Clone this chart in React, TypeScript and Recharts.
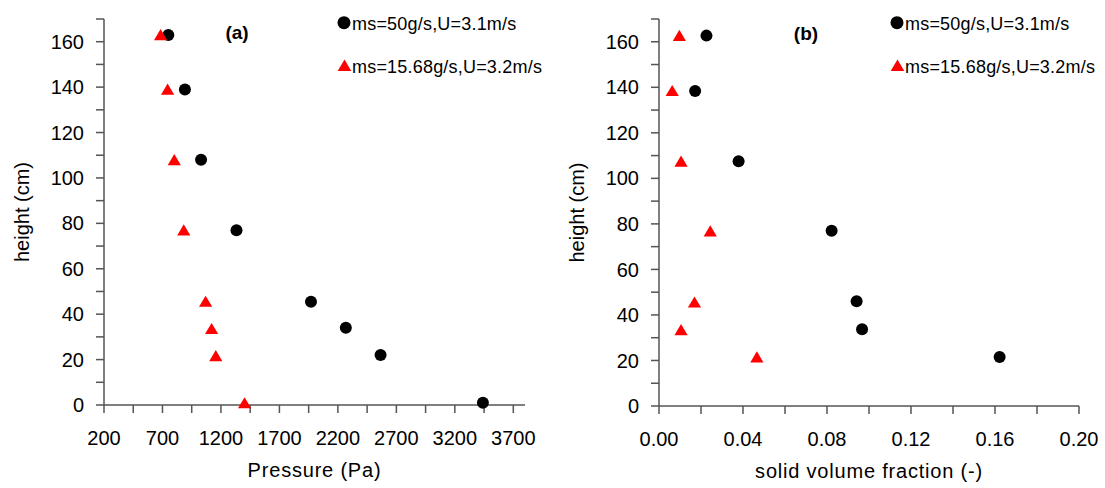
import React from 'react';
import { ScatterChart, Scatter, XAxis, YAxis, Legend, Label } from 'recharts';

const FONT = '"Liberation Sans", Arial, Helvetica, sans-serif';

// Series names
const seriesNames = ['ms=50g/s,U=3.1m/s', 'ms=15.68g/s,U=3.2m/s'];

// Panel (a): Pressure (Pa) vs height (cm)
const heightsA = [163, 139, 108, 77, 45.5, 34, 22, 1];
const pressureBlack = [750, 892, 1030, 1333, 1970, 2268, 2565, 3440];
const heightsRedA = [163, 139, 108, 77, 45.6, 33.6, 21.7, 0.9];
const pressureRed = [684, 744, 801, 882, 1069, 1120, 1156, 1402];

// Panel (b): solid volume fraction (-) vs height (cm)
const heightsBlackB = [162.7, 138.4, 107.5, 77, 46, 33.7, 21.5];
const fractionBlack = [0.0226, 0.0172, 0.0379, 0.0822, 0.0941, 0.0967, 0.1622];
const heightsRedB = [162.7, 138.5, 107.5, 76.8, 45.6, 33.5, 21.5];
const fractionRed = [0.0097, 0.0063, 0.0105, 0.0244, 0.0169, 0.0105, 0.0466];

// Ticks
const yTicks = [0, 10, 20, 30, 40, 50, 60, 70, 80, 90, 100, 110, 120, 130, 140, 150, 160, 170];
const xTicksA = [200, 450, 700, 950, 1200, 1450, 1700, 1950, 2200, 2450, 2700, 2950, 3200, 3450, 3700];
const xTicksB = [0, 0.02, 0.04, 0.06, 0.08, 0.1, 0.12, 0.14, 0.16, 0.18, 0.2];

const dataBlackA = pressureBlack.map((x, i) => ({ x, y: heightsA[i] }));
const dataRedA = pressureRed.map((x, i) => ({ x, y: heightsRedA[i] }));
const dataBlackB = fractionBlack.map((x, i) => ({ x, y: heightsBlackB[i] }));
const dataRedB = fractionRed.map((x, i) => ({ x, y: heightsRedB[i] }));

const AXIS_COLOR = '#555555';

const Circle = (props: any) => {
  const { cx, cy } = props;
  if (cx == null || cy == null) return null;
  return <circle cx={cx} cy={cy} r={6} fill="#000000" />;
};

const Triangle = (props: any) => {
  const { cx, cy } = props;
  if (cx == null || cy == null) return null;
  const pts = `${cx},${cy - 5.8} ${cx + 6.6},${cy + 5.4} ${cx - 6.6},${cy + 5.4}`;
  return <polygon points={pts} fill="#ff0000" />;
};

const LegendBox = () => (
  <div style={{ position: 'relative', width: 240, height: 70, fontFamily: FONT, fontSize: 18, color: '#000' }}>
    <svg style={{ position: 'absolute', left: 0, top: 0 }} width={20} height={70}>
      <circle cx={9} cy={12.7} r={6.5} fill="#000" />
      <polygon points="9.5,49.5 16.3,61 2.7,61" fill="#ff0000" />
    </svg>
    <div style={{ position: 'absolute', left: 17, top: 3, lineHeight: '22px', whiteSpace: 'nowrap', letterSpacing: 0.2 }}>{seriesNames[0]}</div>
    <div style={{ position: 'absolute', left: 17, top: 46, lineHeight: '22px', whiteSpace: 'nowrap', letterSpacing: 0.2 }}>{seriesNames[1]}</div>
  </div>
);

const tickStyle = { fontSize: 20, fill: '#000', fontFamily: FONT };

const yFmt = (v: number) => (Math.round(v) % 20 === 0 ? String(v) : '');
const xFmtA = (v: number) => (Math.round((v - 200) / 250) % 2 === 0 ? String(v) : '');
const xFmtB = (v: number) => (Math.round(v / 0.02) % 2 === 0 ? v.toFixed(2) : '');

const titleStyle: React.CSSProperties = {
  position: 'absolute',
  fontFamily: FONT,
  fontWeight: 'bold',
  fontSize: 19,
  color: '#000',
  lineHeight: '20px',
  width: 40,
  textAlign: 'center',
};

export default function App() {
  return (
    <div style={{ position: 'absolute', left: 0, top: 0, width: 1105, height: 488, background: '#fff' }}>
      <div style={{ position: 'absolute', left: 0, top: 0 }}>
        <ScatterChart width={555} height={488} margin={{ top: 19, right: 30, bottom: 0, left: 0 }}>
          <XAxis
            type="number"
            dataKey="x"
            domain={[200, 3800]}
            ticks={xTicksA}
            interval={0}
            tickFormatter={xFmtA}
            height={83}
            tickSize={8}
            tickMargin={18}
            stroke={AXIS_COLOR}
            strokeWidth={1.5}
            tick={tickStyle}
          >
            <Label value="Pressure (Pa)" position="insideBottom" offset={11} fontSize={20} fill="#000" fontFamily={FONT} letterSpacing={0.8} />
          </XAxis>
          <YAxis
            type="number"
            dataKey="y"
            domain={[0, 170]}
            ticks={yTicks}
            interval={0}
            tickFormatter={yFmt}
            width={104}
            tickSize={8}
            tickMargin={12}
            stroke={AXIS_COLOR}
            strokeWidth={1.5}
            tick={tickStyle}
          >
            <Label value="height (cm)" angle={-90} position="insideLeft" offset={22} fontSize={20} fill="#000" fontFamily={FONT} style={{ textAnchor: 'middle' }} />
          </YAxis>
          <Legend
            layout="horizontal"
            verticalAlign="middle"
            align="center"
            wrapperStyle={{ left: 335, top: 10, width: 240, height: 70 }}
            content={<LegendBox />}
          />
          <Scatter name={seriesNames[0]} data={dataBlackA} fill="#000" shape={<Circle />} isAnimationActive={false} />
          <Scatter name={seriesNames[1]} data={dataRedA} fill="#ff0000" shape={<Triangle />} isAnimationActive={false} />
        </ScatterChart>
        <div style={{ ...titleStyle, left: 217, top: 23 }}>(a)</div>
      </div>
      <div style={{ position: 'absolute', left: 555, top: 0 }}>
        <ScatterChart width={550} height={488} margin={{ top: 19, right: 26, bottom: 0, left: 0 }}>
          <XAxis
            type="number"
            dataKey="x"
            domain={[0, 0.2]}
            ticks={xTicksB}
            interval={0}
            tickFormatter={xFmtB}
            height={82}
            tickSize={8}
            tickMargin={18}
            stroke={AXIS_COLOR}
            strokeWidth={1.5}
            tick={tickStyle}
          >
            <Label value="solid volume fraction (-)" position="insideBottom" offset={10} fontSize={20} fill="#000" fontFamily={FONT} letterSpacing={0.8} />
          </XAxis>
          <YAxis
            type="number"
            dataKey="y"
            domain={[0, 170]}
            ticks={yTicks}
            interval={0}
            tickFormatter={yFmt}
            width={104}
            tickSize={8}
            tickMargin={12}
            stroke={AXIS_COLOR}
            strokeWidth={1.5}
            tick={tickStyle}
          >
            <Label value="height (cm)" angle={-90} position="insideLeft" offset={22} fontSize={20} fill="#000" fontFamily={FONT} style={{ textAnchor: 'middle' }} />
          </YAxis>
          <Legend
            layout="horizontal"
            verticalAlign="middle"
            align="center"
            wrapperStyle={{ left: 333, top: 10, width: 240, height: 70 }}
            content={<LegendBox />}
          />
          <Scatter name={seriesNames[0]} data={dataBlackB} fill="#000" shape={<Circle />} isAnimationActive={false} />
          <Scatter name={seriesNames[1]} data={dataRedB} fill="#ff0000" shape={<Triangle />} isAnimationActive={false} />
        </ScatterChart>
        <div style={{ ...titleStyle, left: 231, top: 24 }}>(b)</div>
      </div>
    </div>
  );
}
